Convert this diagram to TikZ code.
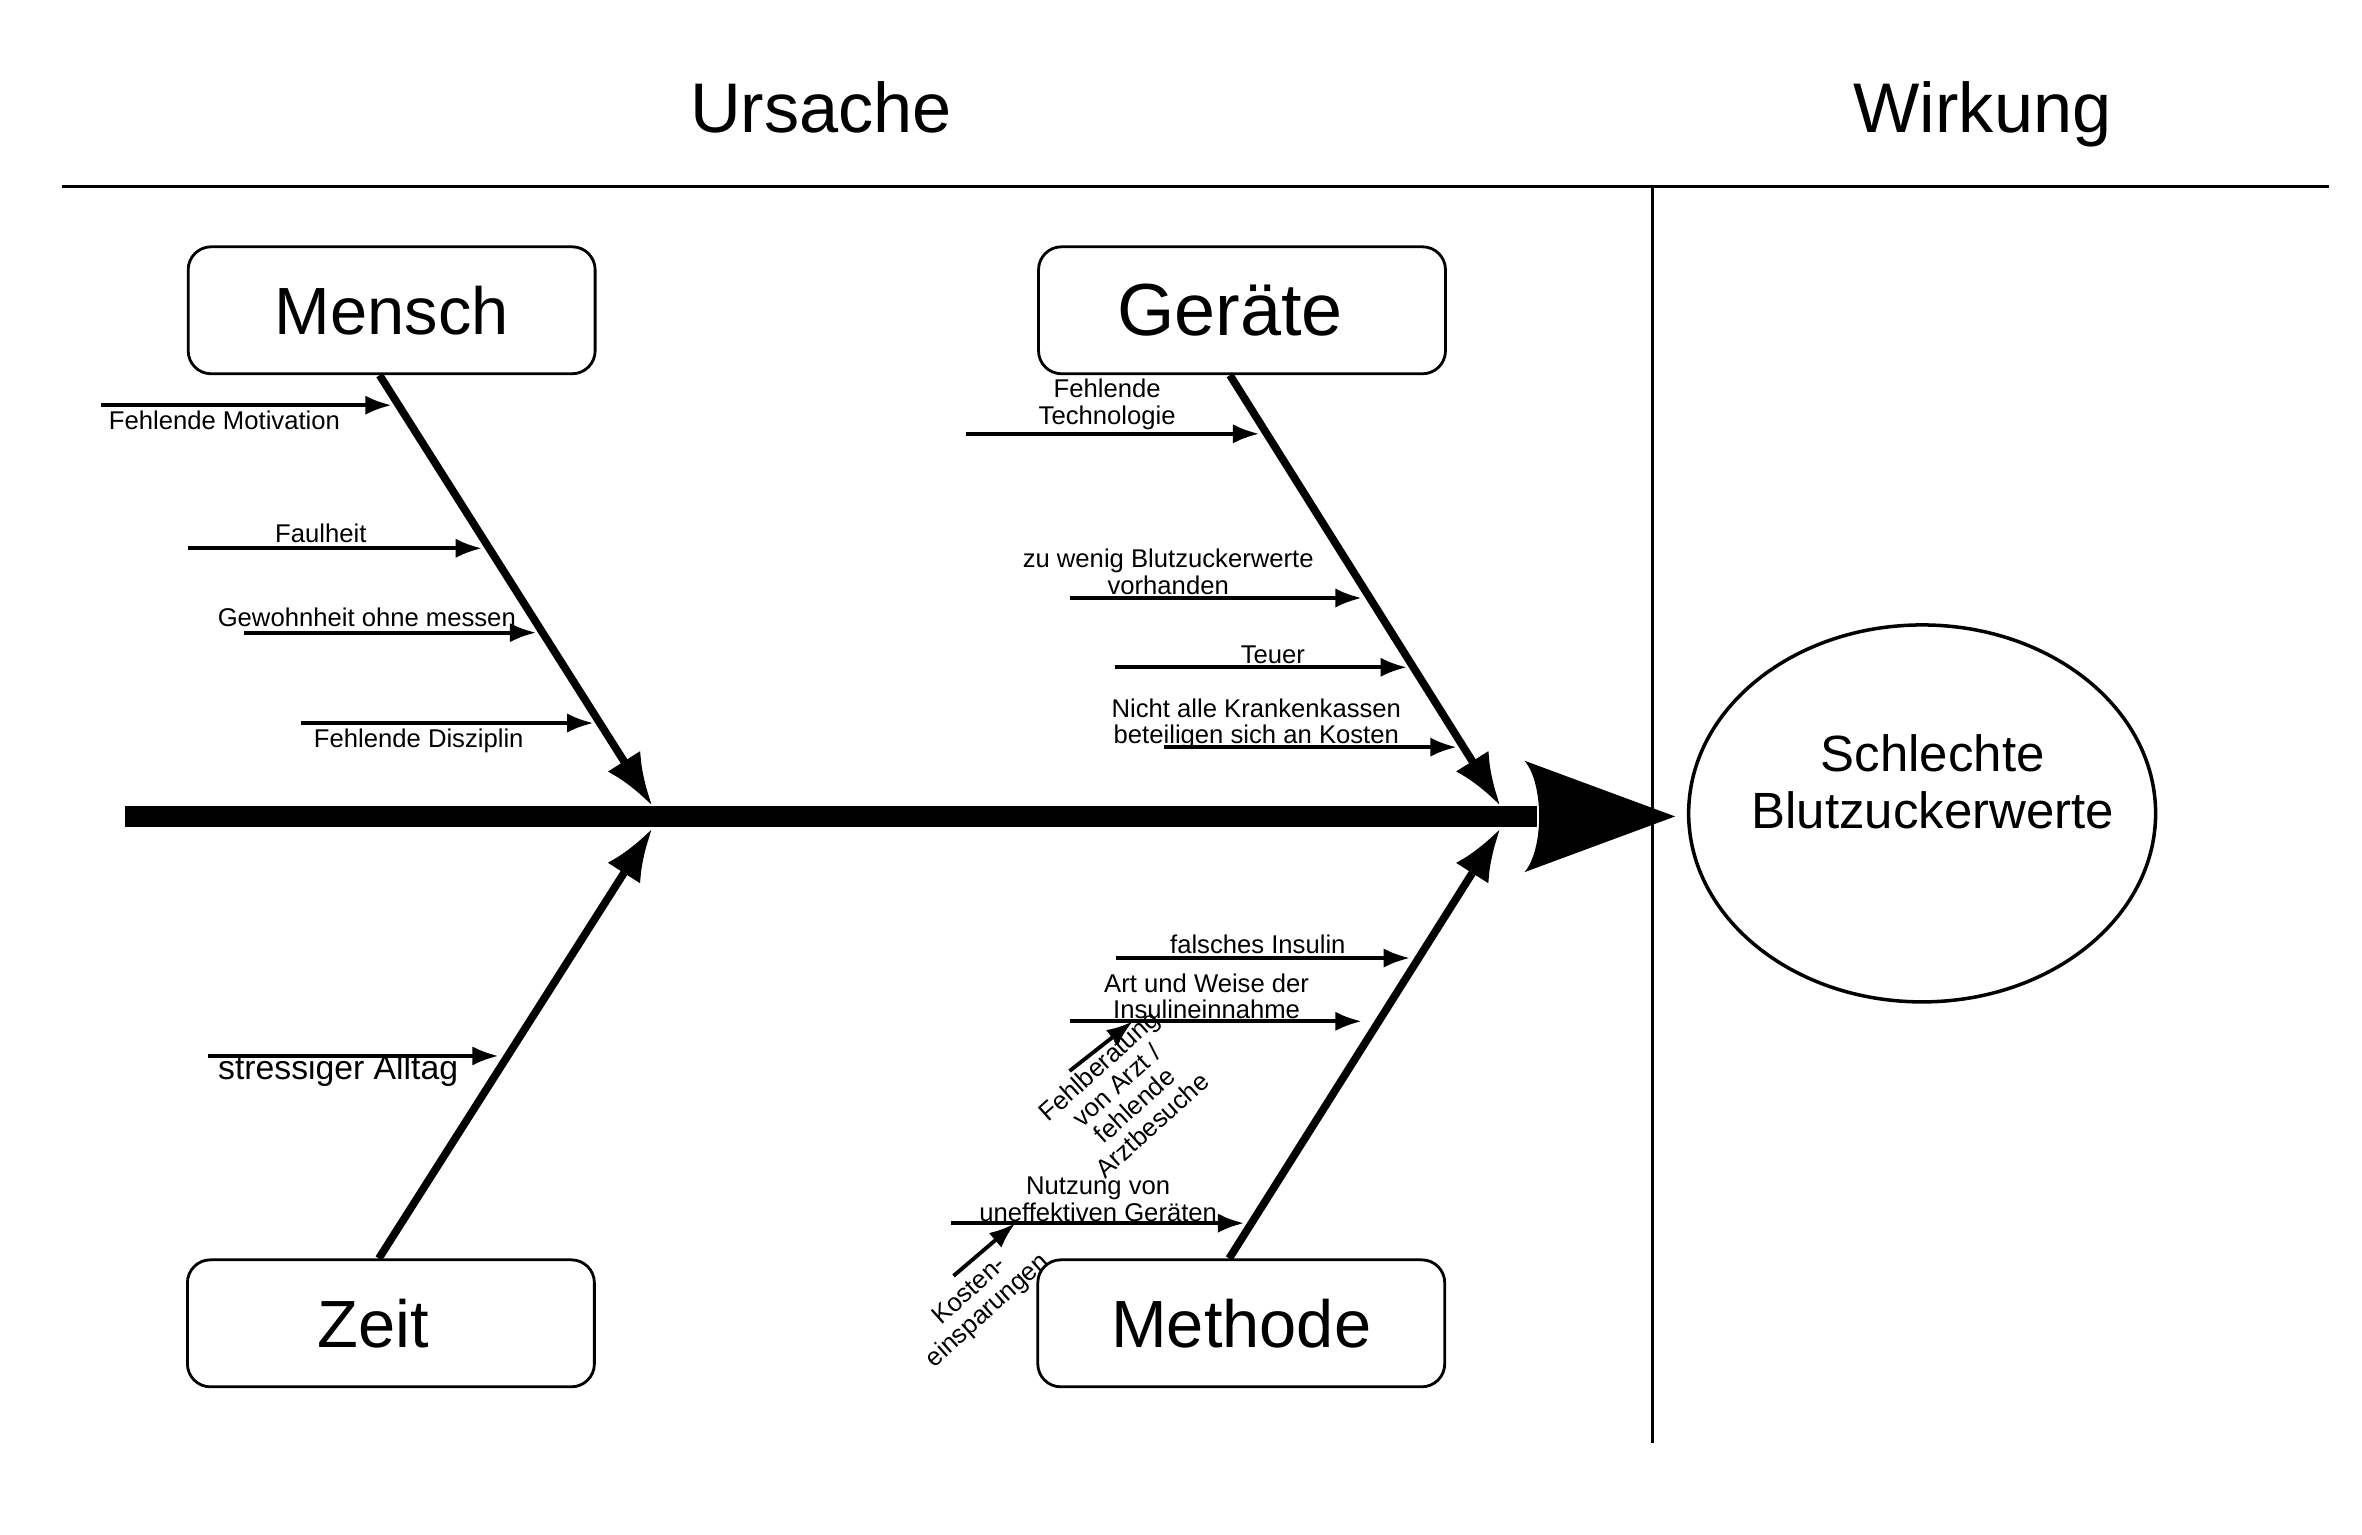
\documentclass[tikz,border=0pt]{standalone}
\usepackage{fontspec}
\setmainfont{Liberation Sans}
\usetikzlibrary{arrows.meta,calc,shapes.geometric}

\tikzset{
  kat/.style={draw,line width=0.8pt,rounded corners=0.23cm,minimum width=4.07cm,minimum height=1.27cm,font=\fontsize{19}{22}\selectfont},
  bone/.style={line width=2.2pt,-{Latex[length=15pt,width=11pt]}},
  zweig/.style={line width=1.1pt,-{Latex[length=7.5pt,width=5.5pt]}},
  klein/.style={font=\fontsize{7.3}{7.6}\selectfont,align=center,inner sep=0pt},
  titel/.style={font=\fontsize{20}{24}\selectfont,anchor=base},
}

\begin{document}
\begin{tikzpicture}[x=1.5065cm,y=1.5065cm]
\useasboundingbox (0,-0.05) rectangle (15.68,10.14);

% Kopfzeile
\node[titel] (ursache) at (5.45,9.26) {Ursache};
\node[titel] (wirkung) at (13.16,9.26) {Wirkung};
\draw[line width=0.85pt] (0.41,8.90) -- (15.46,8.90);
\draw[line width=0.85pt] (10.97,8.90) -- (10.97,0.56);

% Kategorien
\node[kat] (mensch) at (2.60,8.08) {Mensch};
\node[kat,font=\fontsize{21}{24}\selectfont] (geraete) at (8.245,8.08) {\kern-0.24cm Geräte};
\node[kat] (zeit) at (2.595,1.355) {\kern-0.36cm Zeit};
\node[kat] (methode) at (8.24,1.355) {Methode};

% Wirkung
\node[draw,ellipse,line width=1pt,inner sep=0pt,minimum width=4.67cm,minimum height=3.77cm] (wirk) at (12.76,4.74) {};
\node[font=\fontsize{14.5}{16.5}\selectfont,align=center] (wirktext) at (12.83,4.95) {Schlechte\\Blutzuckerwerte};

% Hauptgraete
\coordinate (kopf) at (11.12,4.72);
\draw[line width=6pt] (0.83,4.72) -- (10.2,4.72);
\fill (kopf) -- (10.12,5.09) .. controls (10.25,4.94) and (10.25,4.50) .. (10.12,4.35) -- cycle;

\coordinate (mtip) at (4.33,4.79);
\coordinate (ztip) at (4.33,4.64);
\coordinate (gtip) at (9.96,4.79);
\coordinate (ttip) at (9.96,4.64);
\draw[bone] ($(mensch.south)+(-0.08,0)$) -- (mtip);
\draw[bone] ($(zeit.north)+(-0.08,0)$) -- (ztip);
\draw[bone] ($(geraete.south)+(-0.08,0)$) -- (gtip);
\draw[bone] ($(methode.north)+(-0.08,0)$) -- (ttip);

% Ursachen
\foreach \xa/\xb/\yy/\lx/\ly/\txt [count=\i] in {
  0.67/2.60/7.45/1.49/7.35/{Fehlende Motivation},
  1.25/3.20/6.50/2.13/6.60/Faulheit,
  1.62/3.56/5.94/2.435/6.04/{Gewohnheit ohne messen},
  2.00/3.94/5.34/2.78/5.22/{Fehlende Disziplin},
  6.41/8.36/7.26/7.35/7.455/{Fehlende\\Technologie},
  7.10/9.04/6.17/7.755/6.345/{zu wenig Blutzuckerwerte\\vorhanden},
  7.40/9.34/5.71/8.45/5.79/Teuer,
  7.73/9.67/5.18/8.34/5.335/{Nicht alle Krankenkassen\\beteiligen sich an Kosten},
  7.41/9.36/3.78/8.35/3.87/{falsches Insulin},
  7.10/9.04/3.36/8.01/3.525/{Art und Weise der\\Insulineinnahme},
  6.31/8.26/2.02/7.29/2.18/{Nutzung von\\uneffektiven Geräten}}{
  \draw[zweig] (\xa,\yy) -- (\xb,\yy);
  \node[klein] (u\i) at (\lx,\ly) {\txt};
}

\draw[zweig] (1.38,3.13) -- (3.31,3.13);
\node[font=\fontsize{9.6}{11}\selectfont] (alltag) at (2.245,3.03) {stressiger Alltag};

% schraege Nebenursachen
\draw[zweig] (7.10,3.03) -- (7.52,3.36);
\node[klein,rotate=42] (fehlb) at (7.47,2.87) {Fehlberatung\\von Arzt /\\fehlende\\Arztbesuche};
\draw[zweig] (6.33,1.67) -- (6.74,2.02);
\node[klein,rotate=42] (kosten) at (6.50,1.50) {Kosten-\\einsparungen};

\end{tikzpicture}
\end{document}
